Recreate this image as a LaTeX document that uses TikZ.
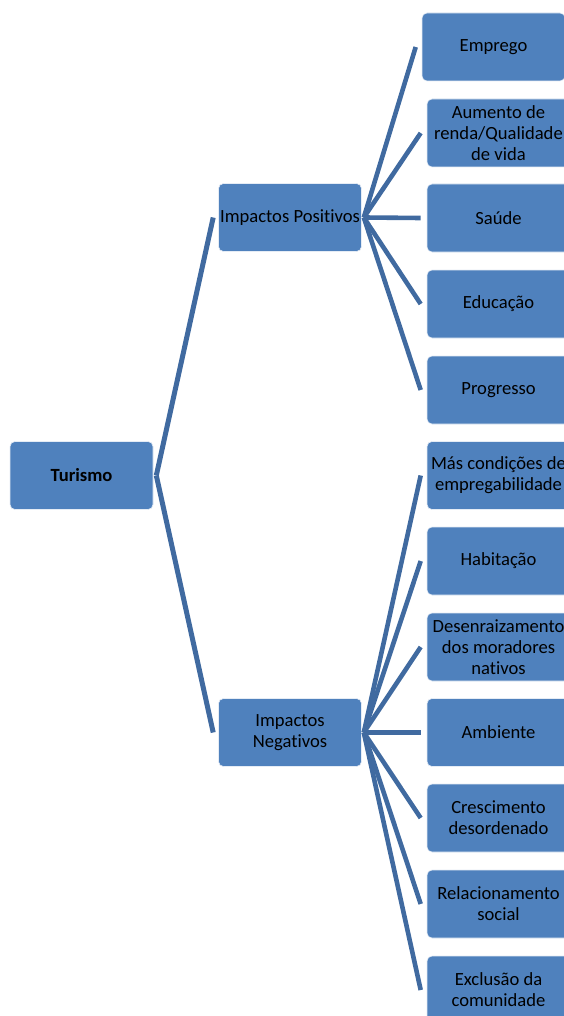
\documentclass[tikz,border=0pt]{standalone}
\usepackage{fontspec}
\setmainfont{Carlito}[Ligatures=NoCommon]
\definecolor{boxblue}{RGB}{79,129,189}
\definecolor{lineblue}{RGB}{64,106,160}
\begin{document}
\begin{tikzpicture}[x=1pt,y=-1pt,
  box/.style={rectangle, rounded corners=5pt, fill=boxblue, draw=white!85!boxblue, line width=0.6pt,
    minimum width=143pt, minimum height=68pt, inner sep=0pt, align=center,
    font=\fontsize{18.6}{21}\selectfont, text=black},
  conn/.style={draw=lineblue, line width=4.6pt},
  rootconn/.style={draw=lineblue, line width=5pt}]
\useasboundingbox (0,0) rectangle (563,1016);
\node[box, font=\fontsize{18.6}{21}\selectfont\bfseries] (t) at (81.5,475.5) {Turismo};
\node[box] (ip) at (290,217.5) {Impactos Positivos};
\node[box] (in) at (290,732.5) {Impactos\\Negativos};
\node[box] (c1) at (493.5,47) {Emprego};
\node[box] (c2) at (498.5,133) {Aumento de\\renda/Qualidade\\de vida};
\node[box] (c3) at (498.5,218) {Saúde};
\node[box] (c4) at (498.5,304) {Educação};
\node[box] (c5) at (498.5,390) {Progresso};
\node[box] (d1) at (498.5,475.5) {Más condições de\\empregabilidade};
\node[box] (d2) at (498.5,561) {Habitação};
\node[box] (d3) at (498.5,647) {Desenraizamento\\dos moradores\\nativos};
\node[box] (d4) at (498.5,732.5) {Ambiente};
\node[box] (d5) at (498.5,818) {Crescimento\\desordenado};
\node[box] (d6) at (498.5,904) {Relacionamento\\social};
\node[box] (d7) at (498.5,990) {Exclusão da\\comunidade};
\draw[rootconn] ([xshift=3pt]t.east) -- ([xshift=-5pt]ip.west);
\draw[rootconn] ([xshift=3pt]t.east) -- ([xshift=-5pt]in.west);
\foreach \c in {c1,c2,c3,c4,c5}
  \draw[conn] ([xshift=2pt]ip.east) -- ([xshift=-6pt]\c.west);
\foreach \c in {d1,d2,d3,d4,d5,d6,d7}
  \draw[conn] ([xshift=2pt]in.east) -- ([xshift=-6pt]\c.west);
\end{tikzpicture}
\end{document}
